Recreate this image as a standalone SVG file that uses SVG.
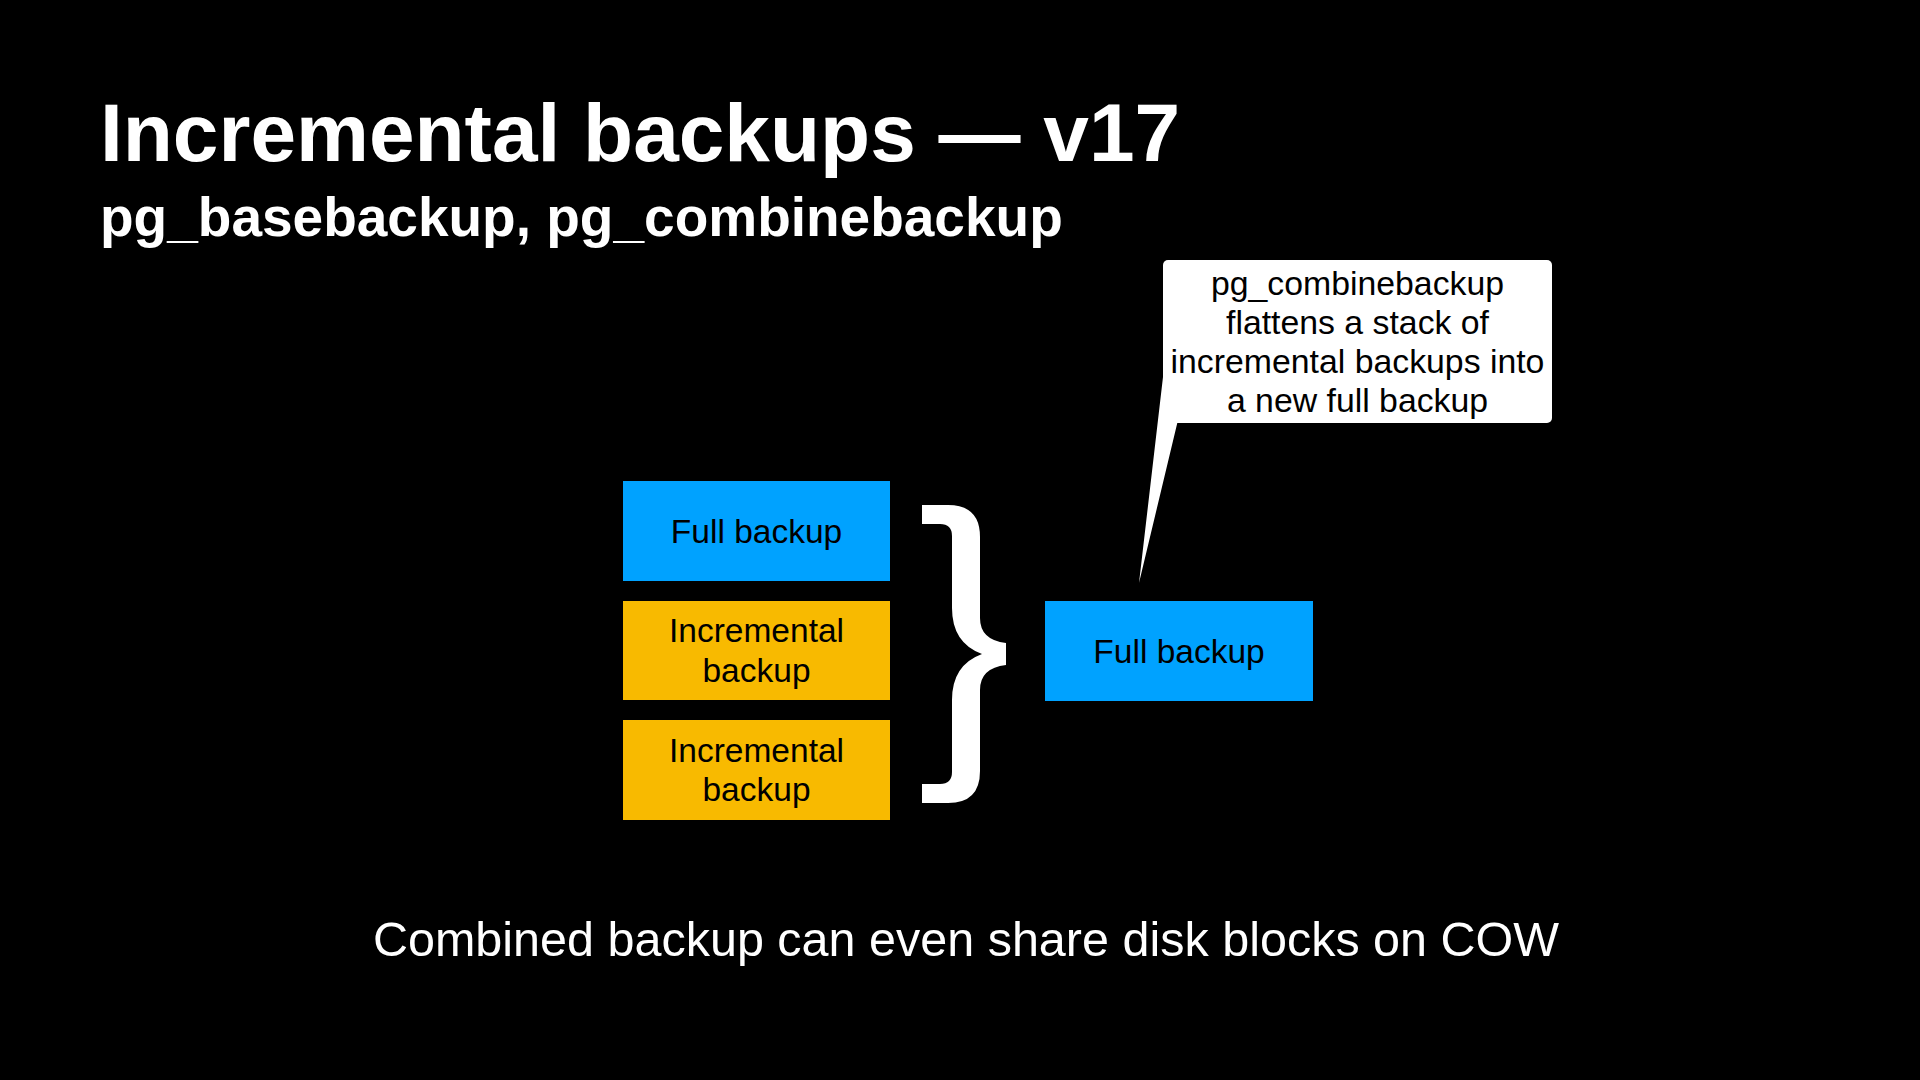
<svg xmlns="http://www.w3.org/2000/svg" width="1920" height="1080" viewBox="0 0 1920 1080">
  <style>
    .title { font-family: "Liberation Sans", Arial, sans-serif; font-weight: bold; fill: #ffffff; }
    .lbl { font-family: "Liberation Sans", Arial, sans-serif; font-size: 33.5px; fill: #000000; text-anchor: middle; }
    .full { fill: #00A2FF; }
    .inc { fill: #F8BA00; }
    .note { font-family: "Liberation Sans", Arial, sans-serif; font-size: 33.8px; fill: #000000; text-anchor: middle; }
    .foot { font-family: "Liberation Sans", Arial, sans-serif; font-size: 48.5px; fill: #ffffff; text-anchor: middle; }
  </style>
  <rect x="0" y="0" width="1920" height="1080" fill="#000000"/>

  <g id="heading">
    <text class="title" x="100" y="161" font-size="82">Incremental backups — v17</text>
    <text class="title" x="100" y="236" font-size="55">pg_basebackup, pg_combinebackup</text>
  </g>

  <g id="full-backup-1">
    <rect class="full" x="623" y="481" width="267" height="100"/>
    <text class="lbl" x="756.5" y="543">Full backup</text>
  </g>
  <g id="incremental-backup-1">
    <rect class="inc" x="623" y="601" width="267" height="99"/>
    <text class="lbl" x="756.5" y="642">Incremental</text>
    <text class="lbl" x="756.5" y="682">backup</text>
  </g>
  <g id="incremental-backup-2">
    <rect class="inc" x="623" y="720" width="267" height="100"/>
    <text class="lbl" x="756.5" y="762">Incremental</text>
    <text class="lbl" x="756.5" y="801">backup</text>
  </g>

  <g id="connectors">
    <path id="brace" fill="#ffffff" d="M922,505 L948,505 Q980,505 980,537 L980,618 Q980,640 1006,643 L1006,665 Q980,668 980,690 L980,771 Q980,803 948,803 L922,803 L922,784 L940,784 Q952,784 952,772 L952,700 Q952,665 982,654 Q952,643 952,608 L952,536 Q952,524 940,524 L922,524 Z"/>
  </g>

  <g id="full-backup-combined">
    <rect class="full" x="1045" y="601" width="268" height="100"/>
    <text class="lbl" x="1179" y="663">Full backup</text>
  </g>

  <g id="callout">
    <rect x="1163" y="260" width="389" height="163" rx="5" ry="5" fill="#ffffff"/>
    <polygon points="1163,377 1139,583 1178,420 1170,420" fill="#ffffff"/>
    <text class="note" x="1357.5" y="295">pg_combinebackup</text>
    <text class="note" x="1357.5" y="334">flattens a stack of</text>
    <text class="note" x="1357.5" y="373">incremental backups into</text>
    <text class="note" x="1357.5" y="412">a new full backup</text>
  </g>

  <g id="footer">
    <text class="foot" x="966" y="956">Combined backup can even share disk blocks on COW</text>
  </g>
</svg>
